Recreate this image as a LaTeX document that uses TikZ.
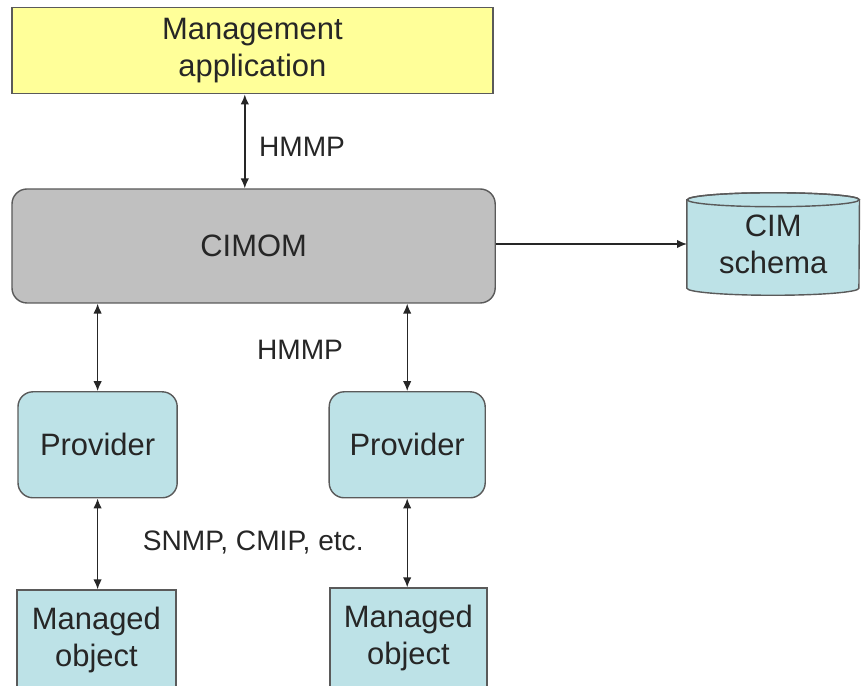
\documentclass[tikz,border=0pt]{standalone}
\usepackage{fontspec}
\setmainfont{Liberation Sans}
\usepackage{tikz}
\usetikzlibrary{arrows.meta}

\definecolor{appyellow}{HTML}{FFFF99}
\definecolor{cimgray}{HTML}{C0C0C0}
\definecolor{provblue}{HTML}{BDE2E7}
\definecolor{edgegray}{HTML}{5A5A5A}
\definecolor{inkdark}{HTML}{262626}

\begin{document}
\begin{tikzpicture}[>={Latex[length=7pt,width=6pt]},
    box/.style={draw=edgegray, line width=1pt, align=center, text=inkdark,
        font=\fontsize{22}{26.5}\selectfont, inner sep=0pt},
    rbox/.style={box, rounded corners=0.375cm},
    lbl/.style={text=inkdark, font=\fontsize{20}{24}\selectfont},
    link/.style={<->, draw=inkdark, line width=1pt}]
    \useasboundingbox (0,0) rectangle (21.525,17.15);

    \node[box, fill=appyellow, minimum width=12.03cm, minimum height=2.15cm] (app) at (6.31,15.88) {Management\\application};
    \node[rbox, fill=cimgray, minimum width=12.08cm, minimum height=2.85cm] (cimom) at (6.34,11.0) {CIMOM};
    \node[minimum width=4.3cm, minimum height=2.55cm, inner sep=0pt] (cim) at (19.33,11.05) {};
    \draw[draw=edgegray, line width=1pt, fill=provblue] ([yshift=-0.175cm]cim.north west) -- ([yshift=0.175cm]cim.south west)
        arc[start angle=180, end angle=360, x radius=2.15cm, y radius=0.175cm] -- ([yshift=-0.175cm]cim.north east)
        arc[start angle=0, end angle=180, x radius=2.15cm, y radius=0.175cm] -- cycle;
    \draw[draw=edgegray, line width=1pt] ([yshift=-0.175cm]cim.north) ellipse[x radius=2.15cm, y radius=0.175cm];
    \node[box, draw=none] at (cim.center) {CIM\\schema};

    \node[rbox, fill=provblue, minimum width=3.98cm, minimum height=2.65cm] (prov1) at (2.44,6.03) {Provider};
    \node[rbox, fill=provblue, minimum width=3.9cm, minimum height=2.65cm] (prov2) at (10.18,6.03) {Provider};
    \node[box, fill=provblue, minimum width=3.98cm, minimum height=2.5cm] (obj1) at (2.41,1.15) {Managed\\object};
    \node[box, fill=provblue, minimum width=3.93cm, minimum height=2.5cm] (obj2) at (10.21,1.2) {Managed\\object};

    \draw[link] ([xshift=-0.19cm]app.south) -- ([xshift=-0.19cm]app.south |- cimom.north);
    \draw[->, draw=inkdark, line width=1pt] (cimom.east |- cim.west) -- (cim.west);
    \draw[link] (cimom.south -| prov1.north) -- (prov1.north);
    \draw[link] (cimom.south -| prov2.north) -- (prov2.north);
    \draw[link] (prov1.south) -- (prov1.south |- obj1.north);
    \draw[link] (prov2.south) -- (prov2.south |- obj2.north);

    \node[lbl] (hmmp1) at (7.55,13.48) {HMMP};
    \node[lbl] (hmmp2) at (7.5,8.4) {HMMP};
    \node[lbl] (snmp) at (6.33,3.58) {SNMP, CMIP, etc.};
\end{tikzpicture}
\end{document}
